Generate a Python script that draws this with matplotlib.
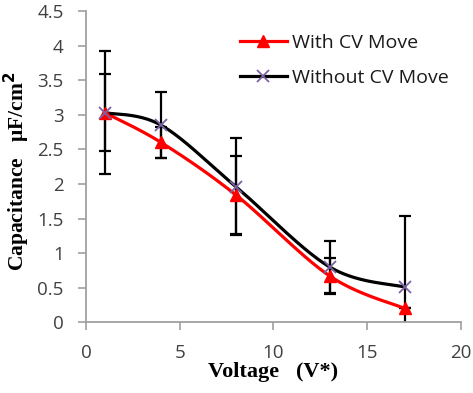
import numpy as np
import matplotlib
matplotlib.use("Agg")
import matplotlib.pyplot as plt

# data
voltage = [1, 4, 8, 13, 17]
cap_with = [3.03, 2.60, 1.84, 0.67, 0.20]
err_with = [0.56, 0.23, 0.57, 0.26, 0.0]
cap_without = [3.03, 2.85, 1.96, 0.80, 0.51]
err_without = [0.89, 0.48, 0.70, 0.37, 1.03]

xticks = [0, 5, 10, 15, 20]
yticks = [0, 0.5, 1, 1.5, 2, 2.5, 3, 3.5, 4, 4.5]
ytick_labels = ["0", "0.5", "1", "1.5", "2", "2.5", "3", "3.5", "4", "4.5"]


def smooth(x, y, n=40):
    # excel-like smoothed line: catmull-rom bezier through the points
    x = np.asarray(x, float)
    y = np.asarray(y, float)
    px = np.concatenate([[x[0]], x, [x[-1]]])
    py = np.concatenate([[y[0]], y, [y[-1]]])
    t = np.linspace(0, 1, n)
    xs, ys = [], []
    for i in range(1, len(px) - 2):
        p0 = np.array([px[i], py[i]])
        p3 = np.array([px[i + 1], py[i + 1]])
        c1 = p0 + (np.array([px[i + 1], py[i + 1]]) - np.array([px[i - 1], py[i - 1]])) / 6
        c2 = p3 - (np.array([px[i + 2], py[i + 2]]) - np.array([px[i], py[i]])) / 6
        b = ((1 - t) ** 3)[:, None] * p0 + (3 * (1 - t) ** 2 * t)[:, None] * c1 \
            + (3 * (1 - t) * t ** 2)[:, None] * c2 + (t ** 3)[:, None] * p3
        xs.extend(b[:, 0])
        ys.extend(b[:, 1])
    return xs, ys


fig = plt.figure(figsize=(4.73, 3.93), dpi=100)
ax = fig.add_axes([0.182, 0.180, 0.792, 0.792])

tick_font = "Open Sans"
grey = "#404040"
purple = "#7b62a3"

# error bars
ax.errorbar(voltage, cap_without, yerr=err_without, fmt="none", ecolor="black",
            elinewidth=1.6, capsize=4, capthick=1.6, zorder=2)
ax.errorbar(voltage, cap_with, yerr=err_with, fmt="none", ecolor="black",
            elinewidth=1.6, capsize=4, capthick=1.6, zorder=2)

# smoothed lines
sx, sy = smooth(voltage, cap_with)
ax.plot(sx, sy, color="#ff0000", lw=2.3, zorder=3)
sx, sy = smooth(voltage, cap_without)
ax.plot(sx, sy, color="black", lw=2.3, zorder=3)

ax.plot(voltage, cap_with, ls="none", marker="^", ms=9, color="#ff0000", zorder=4)
ax.plot(voltage, cap_without, ls="none", marker="x", ms=8, mew=1.3, color=purple, zorder=5)

# legend
h1, = ax.plot([], [], color="#ff0000", lw=2.3, marker="^", ms=9)
h2, = ax.plot([], [], color="black", lw=2.3, marker="x", ms=8, mew=1.3, mec=purple)
leg = ax.legend([h1, h2], ["With CV Move", "Without CV Move"], loc="upper left",
                bbox_to_anchor=(240 / 473, 1 - 34 / 393), bbox_transform=fig.transFigure,
                frameon=False, handlelength=2.4, borderpad=0, borderaxespad=0,
                labelspacing=0.85, handletextpad=0.25,
                prop={"family": tick_font, "size": 14})
for t in leg.get_texts():
    t.set_color("#1a1a1a")

ax.set_xlim(0, 20)
ax.set_ylim(0, 4.5)
ax.set_xticks(xticks)
ax.set_yticks(yticks)
ax.set_xticklabels([str(v) for v in xticks])
ax.set_yticklabels(ytick_labels)
for lab in ax.get_xticklabels() + ax.get_yticklabels():
    lab.set_fontfamily(tick_font)
    lab.set_fontsize(13.5)
    lab.set_color(grey)
ax.tick_params(axis="both", color="#a0a0a0", width=1.2, length=6, direction="out")
ax.tick_params(axis="x", pad=10)
ax.tick_params(axis="y", pad=10)

for s in ["top", "right"]:
    ax.spines[s].set_visible(False)
for s in ["left", "bottom"]:
    ax.spines[s].set_color("#a0a0a0")
    ax.spines[s].set_linewidth(1.3)

ax.set_xlabel("Voltage   (V*)", family="Liberation Serif", weight="bold", fontsize=16, labelpad=0)
fig.text(0.036, 0.564, "Capacitance   \u03bcF/cm$^{\\mathbf{2}}$", rotation=90,
         family="Liberation Serif", weight="bold", fontsize=15.5, ha="center", va="center")

fig.savefig("out.png", dpi=100)
